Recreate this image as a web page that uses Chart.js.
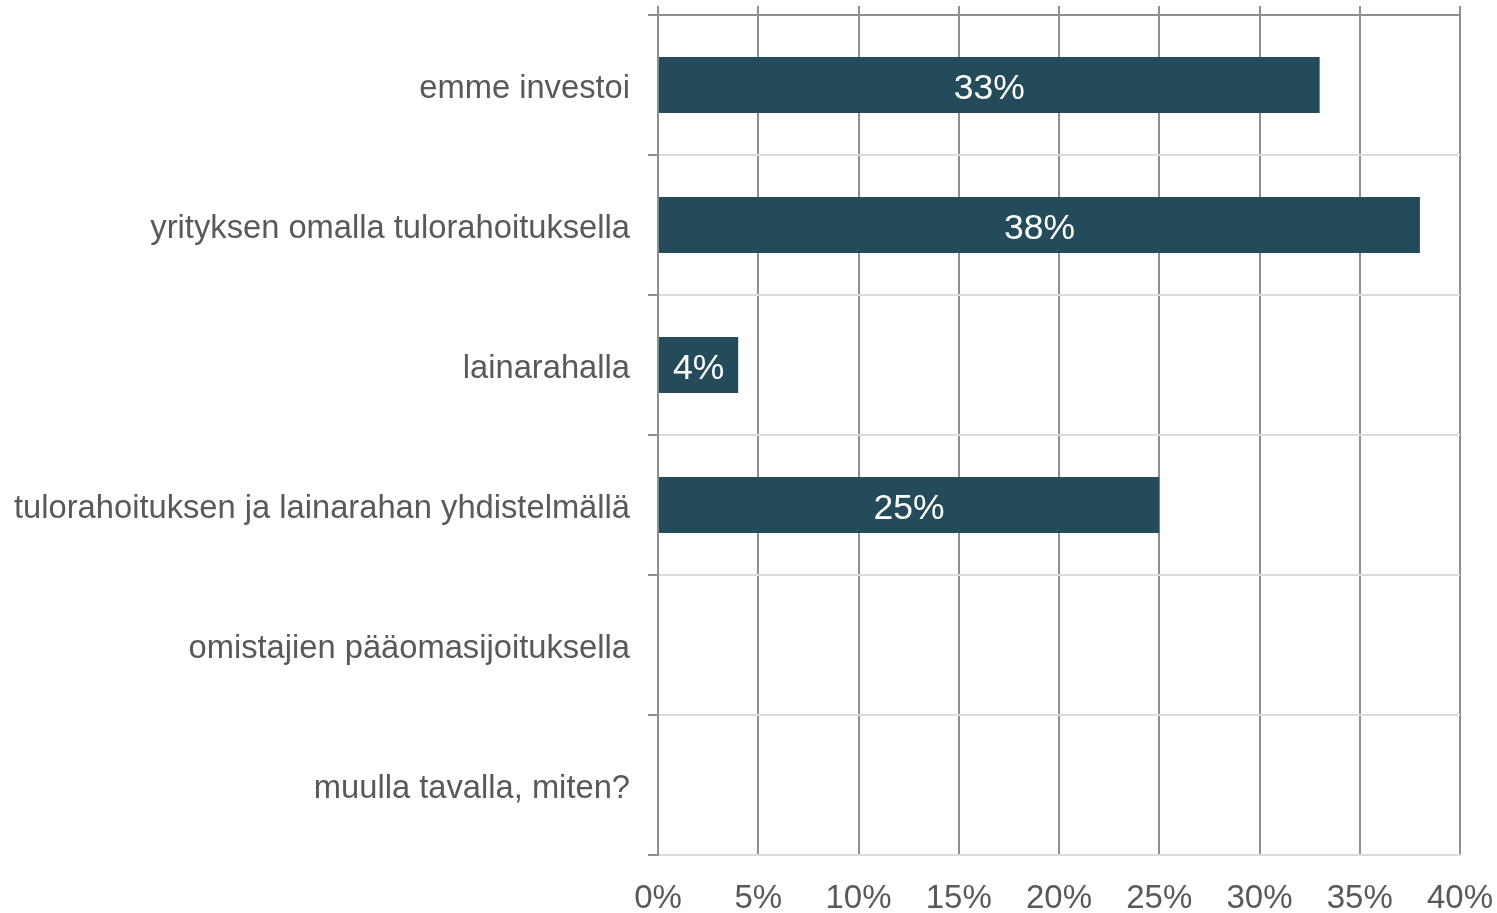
<!DOCTYPE html>
<html>
<head>
<meta charset="utf-8">
<script src="https://cdn.jsdelivr.net/npm/chart.js@4/dist/chart.umd.min.js"></script>
<style>
  html, body { margin: 0; padding: 0; background: #ffffff; }
  canvas { display: block; }
</style>
</head>
<body>
<canvas id="chart" width="1497" height="913"></canvas>
<script>
// ── DATA ─────────────────────────────────────────────────────────────────────
const categories = [
  'emme investoi',
  'yrityksen omalla tulorahoituksella',
  'lainarahalla',
  'tulorahoituksen ja lainarahan yhdistelmällä',
  'omistajien pääomasijoituksella',
  'muulla tavalla, miten?',
];
const shares = [33, 38, 4, 25, 0, 0];   // percent
const xTicks = [0, 5, 10, 15, 20, 25, 30, 35, 40];

// ── STYLE ────────────────────────────────────────────────────────────────────
const FONT      = '"Liberation Sans", Arial, sans-serif';
const TEXT      = '#595959';
const BAR       = '#234b5a';
const GRID_DARK = '#8f8f8f';
const GRID_LITE = '#dcdcdc';

// no extra edge padding from tick labels: plot area is pinned by layout only
const noPad = s => { s.paddingLeft = s.paddingRight = s.paddingTop = s.paddingBottom = 0; };

// white value labels centred in each bar
const barLabels = {
  id: 'barLabels',
  afterDatasetsDraw(chart) {
    const c = chart.ctx;
    const meta = chart.getDatasetMeta(0);
    c.save();
    c.fillStyle = '#ffffff';
    c.font = '35.5px ' + FONT;
    c.textAlign = 'center';
    c.textBaseline = 'middle';
    meta.data.forEach((bar, i) => {
      const v = shares[i];
      if (!v) return;
      c.fillText(v + '%', (bar.x + bar.base) / 2, bar.y + 4);
    });
    c.restore();
  }
};

new Chart(document.getElementById('chart'), {
  type: 'bar',
  data: {
    labels: categories,
    datasets: [{
      data: shares,
      backgroundColor: BAR,
      borderWidth: 0,
      barPercentage: 0.4,
      categoryPercentage: 1.0,
    }]
  },
  options: {
    indexAxis: 'y',
    responsive: false,
    devicePixelRatio: 1,
    animation: false,
    layout: { padding: { left: 0, right: 37, top: 0, bottom: 0 } },
    scales: {
      x: {
        position: 'bottom',
        min: 0, max: 40,
        afterBuildTicks: s => { s.ticks = xTicks.map(v => ({ value: v })); },
        afterFit: s => { s.height = 58; noPad(s); },
        grid: { color: GRID_DARK, lineWidth: 2, drawTicks: false },
        border: { color: GRID_LITE, width: 2 },
        ticks: {
          padding: 24,
          color: TEXT,
          font: { family: FONT, size: 33 },
          callback: v => v + '%',
        },
      },
      x2: {
        position: 'top',
        min: 0, max: 40,
        afterBuildTicks: s => { s.ticks = xTicks.map(v => ({ value: v })); },
        afterFit: s => { s.height = 15; noPad(s); },
        grid: { color: GRID_DARK, lineWidth: 2, drawOnChartArea: false, drawTicks: true, tickLength: 9 },
        border: { color: GRID_DARK, width: 2 },
        ticks: { display: false },
      },
      y: {
        afterFit: s => { s.width = 658; noPad(s); },
        grid: { offset: true, color: GRID_LITE, lineWidth: 2, tickLength: 10, tickColor: GRID_DARK },
        border: { color: GRID_DARK, width: 2 },
        ticks: {
          padding: 18,
          labelOffset: 4,
          color: TEXT,
          font: { family: FONT, size: 32.7 },
        },
      },
    },
    plugins: {
      legend: { display: false },
      tooltip: { enabled: false },
    }
  },
  plugins: [barLabels]
});
</script>
</body>
</html>
